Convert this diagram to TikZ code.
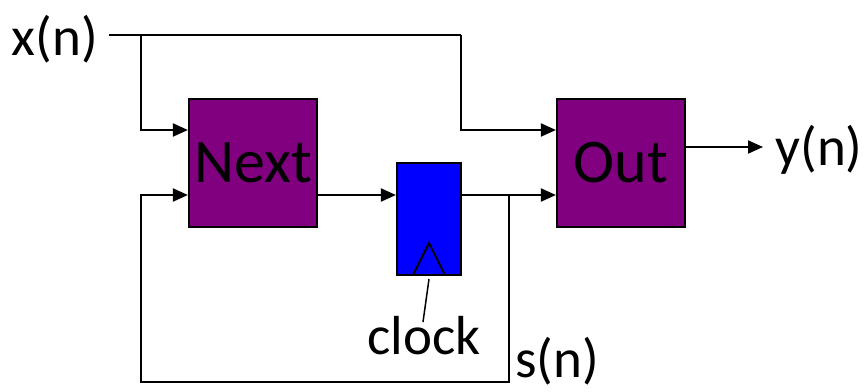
\documentclass[tikz,border=0pt]{standalone}
\usepackage{fontspec}
\setmainfont{Carlito}
\usetikzlibrary{arrows.meta}
\definecolor{boxpurple}{RGB}{128,0,128}
\definecolor{regblue}{RGB}{0,0,255}
\begin{document}
\begin{tikzpicture}[x=1pt,y=-1pt,
  wire/.style={line width=2pt,draw=black},
  arr/.style={wire,-{Triangle[length=15pt,width=13pt]}},
  fsm/.style={draw=black,line width=2.2pt,fill=boxpurple,minimum width=128pt,minimum height=128pt,inner sep=0pt,font=\fontsize{62}{62}\selectfont},
  reg/.style={draw=black,line width=2.2pt,fill=regblue,minimum width=64pt,minimum height=112pt,inner sep=0pt},
  lbl/.style={inner sep=0pt,font=\fontsize{55}{55}\selectfont}]
\useasboundingbox (0,0) rectangle (867,391);
\node[fsm] (next) at (253,163) {Next};
\node[fsm] (out) at (621,163) {Out};
\node[reg] (ff) at (429,219) {};
\node[lbl] (xn) at (55,39) {x(n)};
\node[lbl] (yn) at (819,150) {y(n)};
\node[lbl] (clk) at (424,336) {clock};
\node[lbl] (sn) at (557,361) {s(n)};
\coordinate (xs) at (109,35);
\coordinate (xb) at (141,35);
\coordinate (xr) at (461,35);
\coordinate (br) at (509,195);
\coordinate (fb) at (509,382);
\coordinate (fl) at (141,382);
\coordinate (tri1) at (413,275);
\coordinate (tri2) at (429,243);
\coordinate (tri3) at (445,275);
\coordinate (clktop) at (429,279);
\coordinate (clkbot) at (423,322);
\coordinate (yend) at (763,147);
% input x(n)
\draw[wire] (xs) -- (xr);
\draw[arr] (xb) |- ([yshift=33pt]next.west);
\draw[arr] (xr) |- ([yshift=33pt]out.west);
% Next -> register
\draw[arr] ([yshift=-32pt]next.east) -- ([yshift=-32pt]next.east -| ff.west);
% register -> Out
\draw[arr] ([yshift=-32pt]next.east -| ff.east) -- ([yshift=-32pt]out.west);
% feedback
\draw[arr] (br) -- (fb) -- (fl) |- ([yshift=-32pt]next.west);
% output
\draw[wire,-{Triangle[length=15pt,width=13pt]}] (out.east |- yend) -- (yend);
% clock triangle
\draw[line width=2pt] (tri1) -- (tri2) -- (tri3);
\draw[line width=1.5pt] (clktop) -- (clkbot);
\end{tikzpicture}
\end{document}
